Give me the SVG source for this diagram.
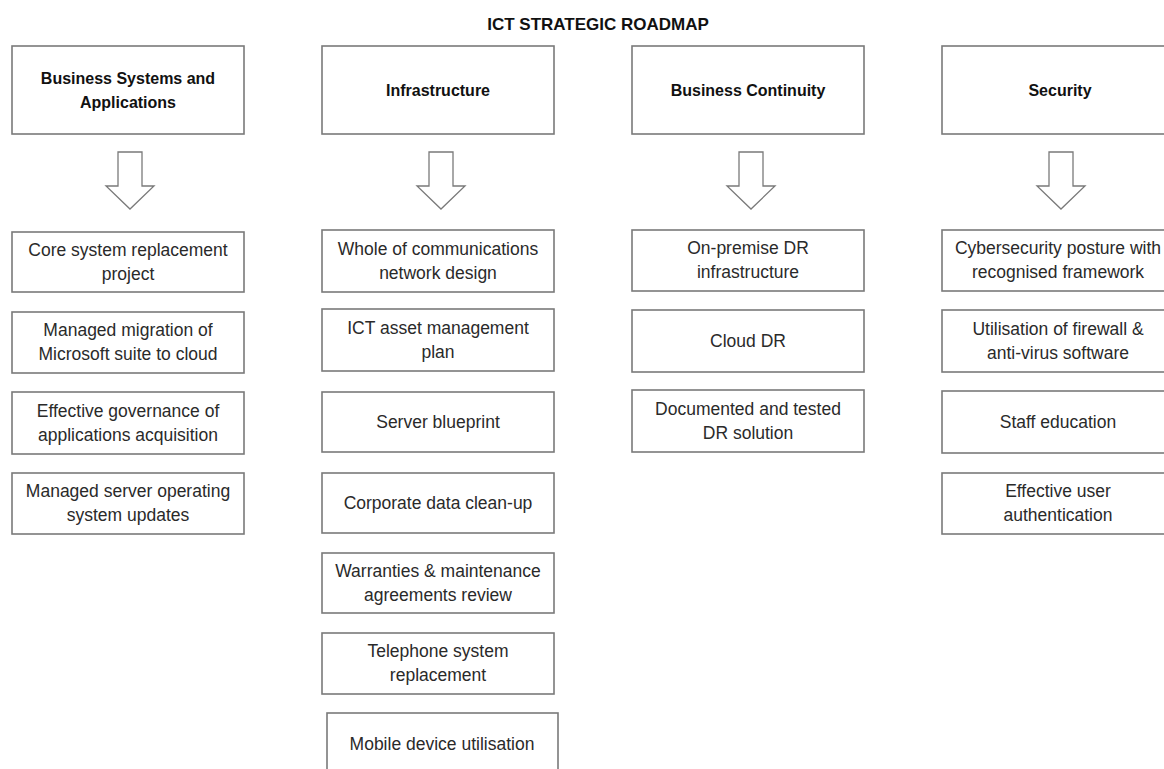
<svg xmlns="http://www.w3.org/2000/svg" width="1164" height="769" viewBox="0 0 1164 769">
<defs>
<style>
.bx{fill:#fff;stroke:#7a7a7a;stroke-width:1.6}
.t{font-family:"Liberation Sans",Arial,sans-serif;font-size:17.5px;fill:#2a2a2a;text-anchor:middle}
.h{font-family:"Liberation Sans",Arial,sans-serif;font-size:16px;font-weight:bold;fill:#111;text-anchor:middle}
.ttl{font-family:"Liberation Sans",Arial,sans-serif;font-size:17px;font-weight:bold;fill:#111;text-anchor:middle}
.ar{fill:#fff;stroke:#7a7a7a;stroke-width:1.3;stroke-linejoin:miter}
</style>
<path id="arw" d="M-12,0 H12 V34 H24 L0,57 L-24,34 H-12 Z"/>
</defs>
<rect width="1164" height="769" fill="#fff"/>
<text class="ttl" x="598" y="30">ICT STRATEGIC ROADMAP</text>

<g id="connectors">
<use href="#arw" class="ar" x="130" y="152"/>
<use href="#arw" class="ar" x="441" y="152"/>
<use href="#arw" class="ar" x="751" y="152"/>
<use href="#arw" class="ar" x="1061" y="152"/>
</g>

<g id="hdr-business"><rect class="bx" x="12" y="46" width="232" height="88"/><text class="h" x="128" y="84">Business Systems and</text><text class="h" x="128" y="108">Applications</text></g>
<g id="hdr-infra"><rect class="bx" x="322" y="46" width="232" height="88"/><text class="h" x="438" y="96">Infrastructure</text></g>
<g id="hdr-bc"><rect class="bx" x="632" y="46" width="232" height="88"/><text class="h" x="748" y="96">Business Continuity</text></g>
<g id="hdr-sec"><rect class="bx" x="942" y="46" width="232" height="88"/><text class="h" x="1060" y="96">Security</text></g>

<g id="b1"><rect class="bx" x="12" y="232" width="232" height="60"/><text class="t" x="128" y="256">Core system replacement</text><text class="t" x="128" y="280">project</text></g>
<g id="b2"><rect class="bx" x="12" y="312" width="232" height="61"/><text class="t" x="128" y="336">Managed migration of</text><text class="t" x="128" y="360">Microsoft suite to cloud</text></g>
<g id="b3"><rect class="bx" x="12" y="392" width="232" height="62"/><text class="t" x="128" y="417">Effective governance of</text><text class="t" x="128" y="441">applications acquisition</text></g>
<g id="b4"><rect class="bx" x="12" y="473" width="232" height="61"/><text class="t" x="128" y="497">Managed server operating</text><text class="t" x="128" y="521">system updates</text></g>

<g id="i1"><rect class="bx" x="322" y="230" width="232" height="62"/><text class="t" x="438" y="255">Whole of communications</text><text class="t" x="438" y="279">network design</text></g>
<g id="i2"><rect class="bx" x="322" y="309" width="232" height="62"/><text class="t" x="438" y="334">ICT asset management</text><text class="t" x="438" y="358">plan</text></g>
<g id="i3"><rect class="bx" x="322" y="392" width="232" height="60"/><text class="t" x="438" y="428">Server blueprint</text></g>
<g id="i4"><rect class="bx" x="322" y="473" width="232" height="60"/><text class="t" x="438" y="509">Corporate data clean-up</text></g>
<g id="i5"><rect class="bx" x="322" y="553" width="232" height="60"/><text class="t" x="438" y="577">Warranties &amp; maintenance</text><text class="t" x="438" y="601">agreements review</text></g>
<g id="i6"><rect class="bx" x="322" y="633" width="232" height="61"/><text class="t" x="438" y="657">Telephone system</text><text class="t" x="438" y="681">replacement</text></g>
<g id="i7"><rect class="bx" x="327" y="713" width="231" height="64"/><text class="t" x="442" y="750">Mobile device utilisation</text></g>

<g id="c1"><rect class="bx" x="632" y="230" width="232" height="61"/><text class="t" x="748" y="254">On-premise DR</text><text class="t" x="748" y="278">infrastructure</text></g>
<g id="c2"><rect class="bx" x="632" y="310" width="232" height="62"/><text class="t" x="748" y="347">Cloud DR</text></g>
<g id="c3"><rect class="bx" x="632" y="390" width="232" height="62"/><text class="t" x="748" y="415">Documented and tested</text><text class="t" x="748" y="439">DR solution</text></g>

<g id="s1"><rect class="bx" x="942" y="230" width="232" height="61"/><text class="t" x="1058" y="254">Cybersecurity posture with</text><text class="t" x="1058" y="278">recognised framework</text></g>
<g id="s2"><rect class="bx" x="942" y="310" width="232" height="62"/><text class="t" x="1058" y="335">Utilisation of firewall &amp;</text><text class="t" x="1058" y="359">anti-virus software</text></g>
<g id="s3"><rect class="bx" x="942" y="391" width="232" height="62"/><text class="t" x="1058" y="428">Staff education</text></g>
<g id="s4"><rect class="bx" x="942" y="473" width="232" height="61"/><text class="t" x="1058" y="497">Effective user</text><text class="t" x="1058" y="521">authentication</text></g>
</svg>
